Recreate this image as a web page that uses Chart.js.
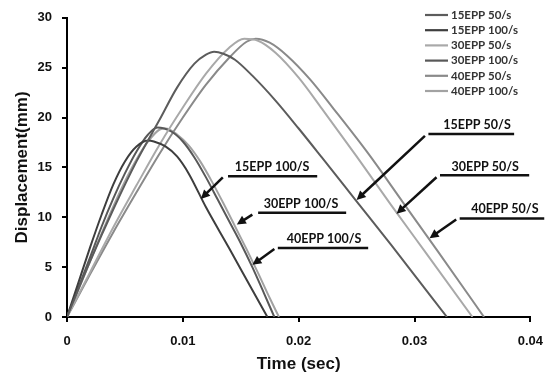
<!DOCTYPE html>
<html>
<head>
<meta charset="utf-8">
<script src="https://cdn.jsdelivr.net/npm/chart.js@4/dist/chart.umd.min.js"></script>
<style>
  html, body { margin: 0; padding: 0; background: #fff; }
  #wrap { width: 555px; height: 378px; }
</style>
</head>
<body>
<div id="wrap"><canvas id="myChart" width="555" height="378"></canvas></div>
<script>
/* data: time (s) and displacement (mm) */
const t15_50 = [0, 0.002, 0.004, 0.006, 0.008, 0.0095, 0.011, 0.012, 0.0127, 0.0135, 0.0145, 0.016, 0.018, 0.020, 0.022, 0.025, 0.028, 0.030, 0.0328];
const d15_50 = [0, 5.6, 10.8, 15.6, 19.8, 23.0, 25.4, 26.3, 26.6, 26.4, 25.8, 24.2, 21.7, 18.9, 16.0, 11.6, 7.2, 4.2, 0];

const t15_100 = [0, 0.001, 0.002, 0.003, 0.004, 0.005, 0.006, 0.007, 0.0075, 0.0085, 0.0095, 0.0105, 0.012, 0.014, 0.016, 0.0173];
const d15_100 = [0, 3.5, 7.0, 10.3, 13.3, 15.6, 17.1, 17.7, 17.6, 17.1, 16.1, 14.4, 11.0, 6.9, 2.7, 0];

const t30_50 = [0, 0.002, 0.004, 0.006, 0.008, 0.010, 0.012, 0.014, 0.0153, 0.0165, 0.018, 0.020, 0.022, 0.025, 0.028, 0.031, 0.035];
const d30_50 = [0, 4.5, 9.0, 13.2, 17.3, 21.0, 24.4, 27.0, 27.9, 27.7, 26.5, 24.0, 20.9, 16.1, 11.2, 6.4, 0];

const t30_100 = [0, 0.001, 0.002, 0.003, 0.004, 0.005, 0.006, 0.007, 0.0078, 0.009, 0.010, 0.011, 0.012, 0.013, 0.014, 0.015, 0.016, 0.017, 0.0179];
const d30_100 = [0, 3.0, 6.0, 9.1, 11.9, 14.4, 16.6, 18.3, 19.0, 18.6, 17.6, 16.0, 14.0, 11.8, 9.6, 7.4, 5.0, 2.4, 0];

const t40_50 = [0, 0.002, 0.004, 0.006, 0.008, 0.010, 0.012, 0.014, 0.0155, 0.0163, 0.0175, 0.019, 0.021, 0.023, 0.026, 0.029, 0.032, 0.036];
const d40_50 = [0, 4.3, 8.5, 12.5, 16.4, 20.0, 23.3, 26.0, 27.6, 27.9, 27.5, 26.2, 23.8, 20.9, 16.4, 11.5, 6.6, 0];

const t40_100 = [0, 0.001, 0.002, 0.003, 0.004, 0.005, 0.006, 0.007, 0.008, 0.0085, 0.0095, 0.0105, 0.0115, 0.0125, 0.0135, 0.0145, 0.0155, 0.0165, 0.0175, 0.0183];
const d40_100 = [0, 2.8, 5.6, 8.4, 11.1, 13.6, 15.8, 17.6, 18.8, 18.9, 18.3, 17.2, 15.6, 13.6, 11.4, 9.1, 6.8, 4.4, 1.9, 0];

const seriesNames = ['15EPP 50/s', '15EPP 100/s', '30EPP 50/s', '30EPP 100/s', '40EPP 50/s', '40EPP 100/s'];
const xTicks = [0, 0.01, 0.02, 0.03, 0.04];
const yTicks = [0, 5, 10, 15, 20, 25, 30];

/* callout labels, placed in data units [text, textX, textY, lineFrom, lineTo, lineY, arrowFrom(x,y), arrowTip(x,y)] */
const callouts = [
  ['15EPP 50/S', 0.0354, 19.25, 0.0312, 0.0386, 18.36, [0.0309, 18.16], [0.0250, 11.74]],
  ['30EPP 50/S', 0.0361, 15.0, 0.0322, 0.0399, 14.21, [0.0319, 14.01], [0.02845, 10.36]],
  ['40EPP 50/S', 0.0378, 10.86, 0.0339, 0.0412, 9.87, [0.0336, 9.77], [0.0313, 7.9]],
  ['15EPP 100/S', 0.0177, 15.0, 0.0139, 0.0216, 14.11, [0.01345, 14.01], [0.01155, 11.84]],
  ['30EPP 100/S', 0.0202, 11.35, 0.0165, 0.0241, 10.46, [0.0160, 10.26], [0.01466, 9.28]],
  ['40EPP 100/S', 0.0222, 7.8, 0.0182, 0.0260, 6.91, [0.0179, 6.81], [0.0160, 5.23]]
];

const colors = ['#5c5c5c', '#3e3e3e', '#a9a9a9', '#585858', '#8a8a8a', '#a2a2a2'];

function pts(ts, ds) {
  return ts.map((t, i) => ({ x: t, y: ds[i] }));
}

const allT = [t15_50, t15_100, t30_50, t30_100, t40_50, t40_100];
const allD = [d15_50, d15_100, d30_50, d30_100, d40_50, d40_100];

const datasets = seriesNames.map((name, i) => ({
  label: name,
  data: pts(allT[i], allD[i]),
  borderColor: colors[i],
  borderWidth: 2,
  pointRadius: 0,
  cubicInterpolationMode: 'monotone',
  fill: false
}));

/* legend + callouts drawn on top */
const extras = {
  id: 'extras',
  afterDraw(chart) {
    const c = chart.ctx;
    const xs = chart.scales.x, ys = chart.scales.y;
    c.save();

    // legend, top right
    c.font = 'bold 11.5px Lato, "Liberation Sans", sans-serif';
    c.textBaseline = 'middle';
    c.textAlign = 'left';
    chart.data.datasets.forEach((ds, i) => {
      const y = 15 + i * 15.2;
      c.strokeStyle = ds.borderColor;
      c.lineWidth = 2.2;
      c.beginPath();
      c.moveTo(425, y);
      c.lineTo(448, y);
      c.stroke();
      c.fillStyle = '#333';
      c.fillText(ds.label, 451, y);
    });

    // callouts
    c.fillStyle = '#111';
    c.strokeStyle = '#111';
    callouts.forEach(co => {
      const [txt, tx, ty, u1, u2, uy, a0, a1] = co;
      c.font = 'bold 12.5px Lato, "Liberation Sans", sans-serif';
      c.textAlign = 'center';
      c.textBaseline = 'middle';
      c.fillText(txt, xs.getPixelForValue(tx), ys.getPixelForValue(ty));
      c.lineWidth = 2.5;
      c.beginPath();
      c.moveTo(xs.getPixelForValue(u1), ys.getPixelForValue(uy));
      c.lineTo(xs.getPixelForValue(u2), ys.getPixelForValue(uy));
      c.stroke();
      const x0 = xs.getPixelForValue(a0[0]), y0 = ys.getPixelForValue(a0[1]);
      const x1 = xs.getPixelForValue(a1[0]), y1 = ys.getPixelForValue(a1[1]);
      const ang = Math.atan2(y1 - y0, x1 - x0);
      const hl = 9, hw = 4.5;
      c.lineWidth = 2.5;
      c.beginPath();
      c.moveTo(x0, y0);
      c.lineTo(x1 - Math.cos(ang) * hl * 0.8, y1 - Math.sin(ang) * hl * 0.8);
      c.stroke();
      c.beginPath();
      c.moveTo(x1, y1);
      c.lineTo(x1 - Math.cos(ang) * hl + Math.sin(ang) * hw, y1 - Math.sin(ang) * hl - Math.cos(ang) * hw);
      c.lineTo(x1 - Math.cos(ang) * hl - Math.sin(ang) * hw, y1 - Math.sin(ang) * hl + Math.cos(ang) * hw);
      c.closePath();
      c.fill();
    });
    c.restore();
  }
};

const tickFont = { family: '"Liberation Sans", Arial, sans-serif', size: 13, weight: 'bold' };
const titleFont = { family: '"Liberation Sans", Arial, sans-serif', size: 17, weight: 'bold' };

const ctx = document.getElementById('myChart');

new Chart(ctx, {
  type: 'line',
  data: { datasets: datasets },
  options: {
    responsive: false,
    animation: false,
    layout: { padding: { top: 13, right: 24, left: 0, bottom: 0 } },
    plugins: {
      legend: { display: false },
      tooltip: { enabled: false }
    },
    scales: {
      x: {
        type: 'linear',
        min: 0,
        max: 0.04,
        afterBuildTicks: s => { s.ticks = xTicks.map(v => ({ value: v })); },
        afterFit: s => { s.height = 61; },
        ticks: {
          color: '#111',
          font: tickFont,
          padding: 12,
          maxRotation: 0,
          callback: v => String(v)
        },
        grid: { drawOnChartArea: false, drawTicks: true, tickLength: 5, color: '#000', lineWidth: 2 },
        border: { display: true, color: '#000', width: 2 },
        title: { display: true, text: 'Time (sec)', color: '#111', font: titleFont, padding: { top: 2, bottom: 3 } }
      },
      y: {
        min: 0,
        max: 30,
        afterBuildTicks: s => { s.ticks = yTicks.map(v => ({ value: v })); },
        afterFit: s => { s.width = 67; },
        ticks: {
          color: '#111',
          font: tickFont,
          padding: 10,
          callback: v => String(v)
        },
        grid: { drawOnChartArea: false, drawTicks: true, tickLength: 5, color: '#000', lineWidth: 2 },
        border: { display: true, color: '#000', width: 2 },
        title: { display: true, text: 'Displacement(mm)', color: '#111', font: titleFont, padding: { top: 12, bottom: 0 } }
      }
    }
  },
  plugins: [extras]
});
</script>
</body>
</html>
